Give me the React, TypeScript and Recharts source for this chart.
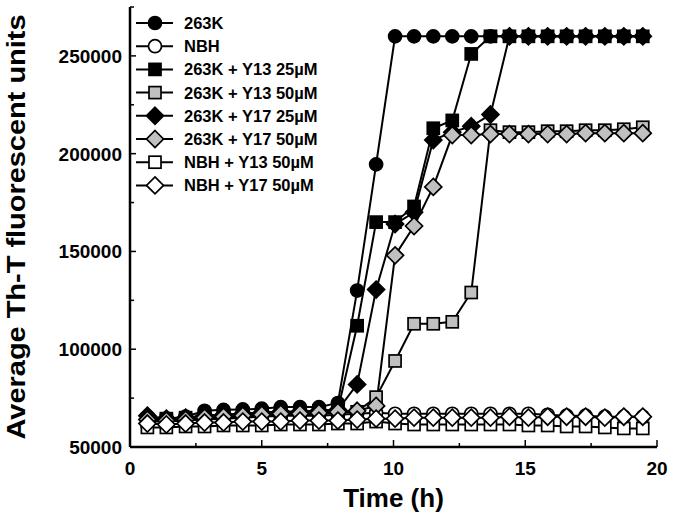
import { LineChart, Line, XAxis, YAxis } from "recharts";

// sampling times (h)
const times = [
  0.66, 1.38, 2.11, 2.83, 3.55, 4.28, 5.0, 5.72, 6.45, 7.17, 7.89, 8.62, 9.34, 10.06,
  10.78, 11.51, 12.23, 12.95, 13.68, 14.4, 15.12, 15.85, 16.57, 17.29, 18.02, 18.74, 19.46,
];

const k263 = [
  65500, 64500, 65500, 68500, 69000, 69200, 69600, 70400, 70400, 70400, 72500, 130000, 194500,
  260000, 260000, 260000, 260000, 260000, 260000, 260000, 260000, 260000, 260000, 260000, 260000,
  260000, 260000,
];
const nbh = [
  63000, 63000, 63500, 64000, 64500, 65000, 65500, 66000, 66000, 66000, 66500, 67000, 67500,
  67000, 67000, 67000, 67000, 67000, 67000, 67000, 67000, 66500, 66000, 66000, 65500, 65500, 65500,
];
const k263Y13_25 = [
  64000, 64500, 65000, 66000, 66500, 67000, 67500, 68000, 68000, 68500, 69000, 112000, 165000,
  165000, 173000, 213000, 217000, 251000, 260000, 260000, 260000, 260000, 260000, 260000, 260000,
  260000, 260000,
];
const k263Y13_50 = [
  63000, 63500, 64000, 64500, 65000, 65500, 66000, 66500, 66500, 67000, 67500, 68000, 75500,
  94000, 113000, 113000, 114000, 129000, 212000, 211000, 211000, 211500, 211500, 212000, 212000,
  212500, 213500,
];
const k263Y17_25 = [
  66000, 64500, 65000, 66000, 66500, 67000, 67500, 68000, 68000, 68500, 69000, 82000, 130500,
  164000, 170000, 207000, 211000, 214000, 220000, 260000, 260000, 260000, 260000, 260000, 260000,
  260000, 260000,
];
const k263Y17_50 = [
  64000, 63500, 64000, 65000, 65500, 66000, 66500, 67000, 67000, 67500, 68000, 68500, 71000,
  148000, 163000, 183000, 209500, 209500, 210000, 210000, 210000, 210000, 210000, 210500, 210500,
  210500, 210500,
];
const nbhY13_50 = [
  60000, 60000, 60500, 60500, 61000, 61000, 61000, 61500, 61500, 61500, 62000, 62000, 63000,
  62000, 61500, 61500, 61500, 61500, 61500, 61500, 61000, 61000, 60500, 60500, 60000, 59500, 59500,
];
const nbhY17_50 = [
  62000, 61500, 62000, 62500, 62500, 63000, 63000, 63000, 63500, 63500, 63500, 64000, 64500,
  64500, 65000, 65000, 65000, 65000, 65000, 65500, 65000, 65500, 65500, 65500, 65000, 65500, 65500,
];

const xTicks = [0, 2.5, 5, 7.5, 10, 12.5, 15, 17.5, 20];
const yTicks = [50000, 75000, 100000, 125000, 150000, 175000, 200000, 225000, 250000, 275000];

const GREY = "#c0c0c0";
const FONT = "'Liberation Sans', Arial, sans-serif";

const series = [
  { key: "k263", name: "263K", shape: "circle", fill: "#000", values: k263 },
  { key: "nbh", name: "NBH", shape: "circle", fill: "#fff", values: nbh },
  { key: "k263Y13_25", name: "263K + Y13 25µM", shape: "square", fill: "#000", values: k263Y13_25 },
  { key: "k263Y13_50", name: "263K + Y13 50µM", shape: "square", fill: GREY, values: k263Y13_50 },
  { key: "k263Y17_25", name: "263K + Y17 25µM", shape: "diamond", fill: "#000", values: k263Y17_25 },
  { key: "k263Y17_50", name: "263K + Y17 50µM", shape: "diamond", fill: GREY, values: k263Y17_50 },
  { key: "nbhY13_50", name: "NBH + Y13 50µM", shape: "square", fill: "#fff", values: nbhY13_50 },
  { key: "nbhY17_50", name: "NBH + Y17 50µM", shape: "diamond", fill: "#fff", values: nbhY17_50 },
];

const data = times.map((t, i) => {
  const row: any = { t };
  series.forEach((s) => (row[s.key] = s.values[i]));
  return row;
});

const Marker = ({ shape, fill, cx, cy }: any) => {
  if (cx == null || cy == null) return null;
  if (shape === "circle")
    return <circle cx={cx} cy={cy} r={6.5} fill={fill} stroke="#000" strokeWidth={1.7} />;
  if (shape === "square")
    return <rect x={cx - 6} y={cy - 6} width={12} height={12} fill={fill} stroke="#000" strokeWidth={1.7} />;
  return (
    <polygon
      points={`${cx},${cy - 8.5} ${cx + 8.5},${cy} ${cx},${cy + 8.5} ${cx - 8.5},${cy}`}
      fill={fill}
      stroke="#000"
      strokeWidth={1.7}
    />
  );
};

// ticks point inward, labels only on the major ones
const XTick = ({ x, y, payload }: any) => {
  const v = payload.value;
  const major = v % 5 === 0;
  return (
    <g>
      <line x1={x} x2={x} y1={y} y2={y - (major ? 7 : 4)} stroke="#000" strokeWidth={1.5} />
      {major && (
        <text x={x} y={y + 28} textAnchor="middle" fontSize={19} fontWeight="bold" fontFamily={FONT} fill="#000">
          {v}
        </text>
      )}
    </g>
  );
};

const YTick = ({ x, y, payload }: any) => {
  const v = payload.value;
  const major = v % 50000 === 0;
  return (
    <g>
      <line x1={x} x2={x + (major ? 6 : 4)} y1={y} y2={y} stroke="#000" strokeWidth={1.5} />
      {major && v < 275000 && (
        <text x={x - 8} y={y + 7} textAnchor="end" fontSize={19} fontWeight="bold" fontFamily={FONT} fill="#000">
          {v}
        </text>
      )}
    </g>
  );
};

export default function App() {
  return (
    <div style={{ position: "absolute", left: 0, top: 0, width: 674, height: 519, background: "#fff" }}>
      <LineChart width={674} height={519} data={data} margin={{ top: 7, right: 17, bottom: 12, left: 10 }}>
        <XAxis
          dataKey="t"
          type="number"
          domain={[0, 20]}
          ticks={xTicks}
          interval={0}
          tickSize={0}
          tickMargin={0}
          tickLine={false}
          tick={<XTick />}
          height={60}
          axisLine={{ stroke: "#000", strokeWidth: 2.5 }}
          label={{
            content: ({ viewBox }: any) => (
              <text
                x={viewBox.x + viewBox.width / 2}
                y={viewBox.y + 60}
                textAnchor="middle"
                fontSize={26}
                fontWeight="bold"
                fontFamily={FONT}
                fill="#000"
              >
                Time (h)
              </text>
            ),
          }}
        />
        <XAxis xAxisId="top" orientation="top" type="number" domain={[0, 20]} height={0} tick={false} tickLine={false} axisLine={{ stroke: "#000", strokeWidth: 2.5 }} />
        <YAxis
          type="number"
          domain={[50000, 275000]}
          ticks={yTicks}
          interval={0}
          tickSize={0}
          tickMargin={0}
          tickLine={false}
          tick={<YTick />}
          width={120}
          allowDataOverflow
          axisLine={{ stroke: "#000", strokeWidth: 2.5 }}
          label={{
            content: ({ viewBox }: any) => {
              const cx = viewBox.x + 15;
              const cy = viewBox.y + viewBox.height / 2;
              return (
                <text
                  x={cx}
                  y={cy}
                  transform={`rotate(-90 ${cx} ${cy})`}
                  textAnchor="middle"
                  fontSize={26}
                  fontWeight="bold"
                  fontFamily={FONT}
                  fill="#000"
                  textLength={425}
                  lengthAdjust="spacingAndGlyphs"
                >
                  Average Th-T fluorescent units
                </text>
              );
            },
          }}
        />
        <YAxis yAxisId="right" orientation="right" type="number" domain={[50000, 275000]} width={0} tick={false} tickLine={false} axisLine={{ stroke: "#000", strokeWidth: 2.5 }} />
        {series.map((s) => (
          <Line
            key={s.key}
            type="linear"
            dataKey={s.key}
            name={s.name}
            stroke="#000"
            strokeWidth={2}
            isAnimationActive={false}
            dot={(p: any) => <Marker key={`${s.key}-${p.index}`} shape={s.shape} fill={s.fill} cx={p.cx} cy={p.cy} />}
            activeDot={false}
          />
        ))}
      </LineChart>
      <svg width={674} height={519} style={{ position: "absolute", left: 0, top: 0, pointerEvents: "none" }}>
        {series.map((s, i) => {
          const y = 23 + i * 23.2;
          return (
            <g key={s.key}>
              <line x1={136} x2={173} y1={y} y2={y} stroke="#000" strokeWidth={2} />
              <Marker shape={s.shape} fill={s.fill} cx={155} cy={y} />
              <text x={184} y={y + 6} fontSize={16.5} fontWeight="bold" fontFamily={FONT} fill="#000">
                {s.name}
              </text>
            </g>
          );
        })}
      </svg>
    </div>
  );
}
